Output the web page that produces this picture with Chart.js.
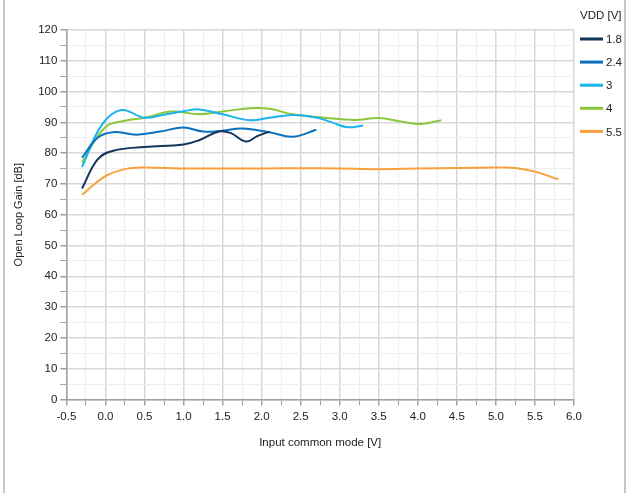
<!DOCTYPE html>
<html lang="en">
<head>
<meta charset="UTF-8">
<title>Open Loop Gain vs Input common mode</title>
<script src="https://cdn.jsdelivr.net/npm/chart.js"></script>
<style>
  body { margin: 0; background: #fff; }
  #wrap { position: relative; width: 629px; height: 493px; }
  #frame { position: absolute; left: 3px; top: 0; width: 623px; height: 493px;
           border-left: 2px solid #c6c6c6; border-right: 2px solid #c6c6c6; box-sizing: border-box; }
  canvas { position: absolute; left: 0; top: 0; }
</style>
</head>
<body>
<div id="wrap">
  <div id="frame"></div>
  <canvas id="chart" width="629" height="493"></canvas>
</div>
<script>
// data: [input common mode V, gain dB]
const vdd18 = [[-0.3,68.5],[-0.1,78],[0.1,80.8],[0.5,82],[1.0,82.8],[1.2,84.2],[1.45,87],[1.6,86.6],[1.8,83.8],[1.95,85.6],[2.1,87]];
const vdd24 = [[-0.3,78.5],[-0.1,85],[0.1,86.8],[0.4,86],[0.7,87],[1.0,88.3],[1.25,87],[1.5,87.3],[1.75,88],[2.1,86.8],[2.4,85.3],[2.7,87.6]];
const vdd3  = [[-0.3,75.5],[-0.05,89],[0.2,94],[0.5,91.5],[0.75,92.5],[1.0,93.6],[1.2,94.2],[1.5,92.6],[1.85,90.7],[2.1,91.5],[2.4,92.4],[2.7,91.6],[2.9,90],[3.1,88.4],[3.3,89]];
const vdd4  = [[-0.3,77],[0,88.5],[0.25,90.5],[0.5,91.5],[0.85,93.5],[1.2,92.6],[1.5,93.5],[1.85,94.6],[2.1,94.4],[2.4,92.6],[2.8,91.5],[3.2,90.8],[3.5,91.4],[3.8,90.2],[4.05,89.5],[4.3,90.7]];
const vdd55 = [[-0.3,66.5],[0,72.5],[0.25,74.8],[0.5,75.3],[1.0,75],[1.5,75],[2.0,75],[2.5,75.1],[3.0,75],[3.5,74.8],[4.0,75],[4.5,75.2],[5.0,75.3],[5.25,75.2],[5.5,74],[5.8,71.5]];

const seriesNames = ['1.8', '2.4', '3', '4', '5.5'];
const seriesColors = ['#12345a', '#0a70c0', '#1ab4ec', '#8cc63f', '#f8a13c'];
const allSeries = [vdd18, vdd24, vdd3, vdd4, vdd55];

const font = "'Liberation Sans', Arial, sans-serif";
const isMajorX = v => Math.abs(v * 2 - Math.round(v * 2)) < 1e-6;

const data = {
  datasets: allSeries.map((pts, i) => ({
    label: seriesNames[i],
    data: pts.map(p => ({ x: p[0], y: p[1] })),
    borderColor: seriesColors[i],
    backgroundColor: seriesColors[i],
    borderWidth: 2,
    pointRadius: 0,
    tension: 0.4
  }))
};

// legend drawn at the top right, next to the plot
const sideLegend = {
  id: 'sideLegend',
  afterDraw(chart) {
    const ctx = chart.ctx;
    ctx.save();
    ctx.font = '11.5px ' + font;
    ctx.fillStyle = '#222';
    ctx.textBaseline = 'middle';
    ctx.textAlign = 'left';
    ctx.fillText('VDD [V]', 580, 16);
    chart.data.datasets.forEach((ds, i) => {
      const y = 39 + i * 23.1;
      ctx.fillStyle = ds.borderColor;
      ctx.fillRect(580, y - 1.5, 23, 3);
      ctx.fillStyle = '#222';
      ctx.fillText(ds.label, 606, y + 1);
    });
    ctx.restore();
  }
};

const config = {
  type: 'line',
  data: data,
  options: {
    responsive: false,
    animation: false,
    layout: { padding: { top: 30, right: 55, left: 8, bottom: 39 } },
    plugins: {
      tooltip: { enabled: false },
      legend: { display: false }
    },
    scales: {
      x: {
        type: 'linear',
        min: -0.5,
        max: 6,
        ticks: {
          stepSize: 0.25,
          autoSkip: false,
          maxRotation: 0,
          padding: 5,
          color: '#222',
          font: { family: font, size: 11.5 },
          callback: v => (isMajorX(v) ? v.toFixed(1) : '')
        },
        grid: {
          color: c => (isMajorX(c.tick.value) ? '#d8d8d8' : '#eeeeee'),
          lineWidth: c => (isMajorX(c.tick.value) ? 1.5 : 1),
          tickColor: '#a0a0a0',
          tickLength: 6
        },
        border: { color: '#a0a0a0', width: 1.5 },
        title: { display: true, text: 'Input common mode [V]', color: '#222', font: { family: font, size: 11.5 }, padding: { top: 7 } }
      },
      y: {
        min: 0,
        max: 120,
        ticks: {
          stepSize: 5,
          autoSkip: false,
          color: '#222',
          font: { family: font, size: 11.5 },
          callback: v => (v % 10 === 0 ? v : '')
        },
        grid: {
          color: c => (c.tick.value % 10 === 0 ? '#d8d8d8' : '#eeeeee'),
          lineWidth: c => (c.tick.value % 10 === 0 ? 1.5 : 1),
          tickColor: '#a0a0a0',
          tickLength: 6
        },
        border: { color: '#a0a0a0', width: 1.5 },
        title: { display: true, text: 'Open Loop Gain [dB]', color: '#222', font: { family: font, size: 11 }, padding: { bottom: 10 } }
      }
    }
  },
  plugins: [sideLegend]
};

const chart = new Chart(document.getElementById('chart'), config);
</script>
</body>
</html>
